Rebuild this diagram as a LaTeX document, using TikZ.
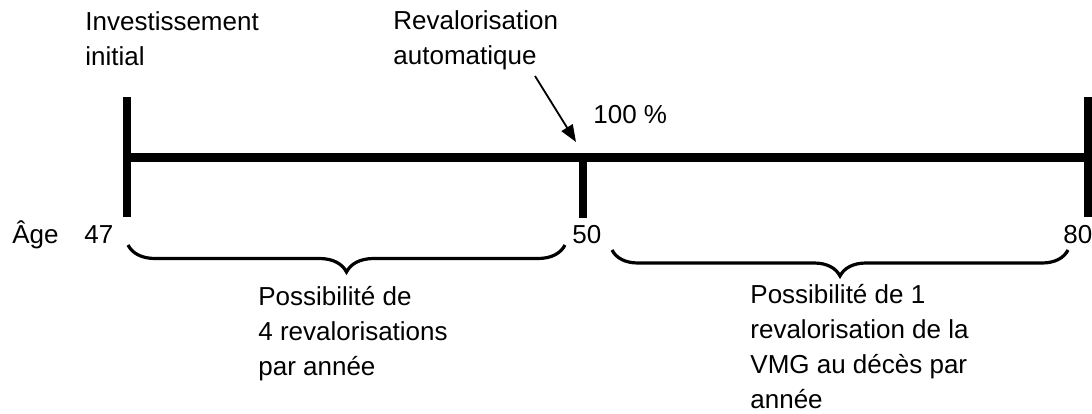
\documentclass[tikz,border=0pt]{standalone}
\usepackage{fontspec}
\setmainfont{Liberation Sans}
\usetikzlibrary{arrows.meta,decorations.pathreplacing}

\begin{document}
\begin{tikzpicture}[x=0.5pt, y=-0.5pt, >={Triangle[length=8.5pt,width=6.5pt]},
	txt/.style={anchor=base west, inner sep=0pt, align=left, font=\fontsize{13}{17.5}\selectfont},
	timeline/.style={line width=4.5pt},
	tickmark/.style={line width=4pt},
	agebrace/.style={decorate, decoration={brace, mirror, amplitude=#1}, line width=1.6pt}]
	\useasboundingbox (0,0) rectangle (1092,413);

	% Points on the timeline {t47, t50, t80}
	\coordinate (t47) at (126.5,157.5);
	\coordinate (t50) at (583,157.5);
	\coordinate (t80) at (1088,157.5);

	% Nodes (placed at the baseline of their last line)
	\node [txt] (invest) at (85,65)   {Investissement\\initial};
	\node [txt] (reval)  at (393,64)  {Revalorisation\\automatique};
	\node [txt] (pct)    at (593,123) {100 \%};
	\node [txt] (age)    at (12,243)  {Âge};
	\node [txt] (a47)    at (84,243)  {47};
	\node [txt] (a50)    at (572,243) {50};
	\node [txt] (a80)    at (1063,243) {80};
	\node [txt] (quatre) at (258,375) {Possibilité de\\4 revalorisations\\par année};
	\node [txt] (une)    at (750,408) {Possibilité de 1\\revalorisation de la\\VMG au décès par\\année};

	% Timeline
	\draw [timeline] (t47) -- (t80);
	\draw [tickmark] (t47) ++(0,-60.5) -- ++(0,120);
	\draw [tickmark] (t50) -- ++(0,60);
	\draw [tickmark] (t80) ++(0,-60.5) -- ++(0,120);

	% Arrow
	\coordinate (autostart) at (535,76);
	\coordinate (autotip)   at (576,142);
	\draw [->, line width=0.9pt] (autostart) -- (autotip);

	% Braces
	\coordinate (b1a) at (128,245);
	\coordinate (b1b) at (565,245);
	\coordinate (b2a) at (612,250);
	\coordinate (b2b) at (1068,250);
	\draw [agebrace=13.5pt] (b1a) -- (b1b);
	\draw [agebrace=13pt]   (b2a) -- (b2b);
\end{tikzpicture}
\end{document}
